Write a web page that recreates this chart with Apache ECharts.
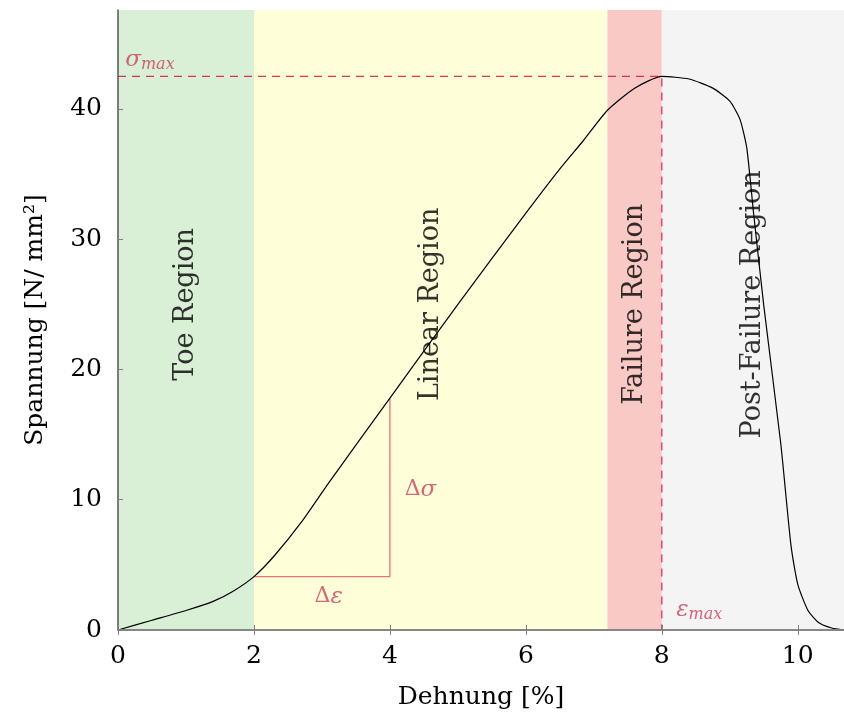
<!DOCTYPE html>
<html>
<head>
<meta charset="utf-8">
<script src="https://cdn.jsdelivr.net/npm/echarts@6/dist/echarts.min.js"></script>
<style>
html,body{margin:0;padding:0;background:#fff;}
#chart{width:844px;height:722px;}
</style>
</head>
<body>
<div id="chart"></div>
<script>
// ---- data ----
const strain = [0, 0.5, 1.0, 1.4, 1.7, 2.0, 2.3, 2.7, 3.1, 4.0, 5.0, 6.0, 6.5, 6.85, 7.2, 7.6, 8.0, 8.4, 8.75, 9.0, 9.15, 9.25, 9.35, 9.5, 9.75, 9.9, 10.0, 10.15, 10.3, 10.5, 10.68];
const stress = [0, 0.75, 1.5, 2.2, 3.0, 4.1, 5.7, 8.3, 11.3, 17.8, 25.0, 32.0, 35.4, 37.6, 39.9, 41.6, 42.5, 42.3, 41.6, 40.6, 39.2, 37.0, 32.0, 24.9, 14.3, 6.5, 3.5, 1.5, 0.6, 0.15, 0];

const regionNames = ['Toe Region', 'Linear Region', 'Failure Region', 'Post-Failure Region'];
const regionStart = [0, 2, 7.2, 8];
const regionEnd = [2, 7.2, 8, 10.68];
const regionLabelY = 25;

const xTicks = [0, 2, 4, 6, 8, 10];
const yTicks = [0, 10, 20, 30, 40];

const sigmaMax = 42.5;
const epsMax = 8;
const triangleX = [2, 4, 4];
const triangleY = [4.1, 4.1, 17.8];

const annotTexts = ['Δσ', 'Δε', 'σmax', 'εmax'];
const annotX = [4.45, 3.1, 0.47, 8.55];
const annotY = [10.7, 2.5, 43.7, 1.5];

// ---- chart ----
const regionColors = ['#d9efd6', '#fefed9', '#f9c9c6', '#f4f4f4'];
const red = '#dc143c';
const font = 'DejaVu Serif';

const chart = echarts.init(document.getElementById('chart'));

const xMin = 0, xMax = 10.68, yMin = 0, yMax = 47.6;

const curve = strain.map((x, i) => [x, stress[i]]);
const tri = triangleX.map((x, i) => [x, triangleY[i]]);

function richLabel(t) {
  if (t === 'σmax') return '{a|σ}{b|max}';
  if (t === 'εmax') return '{a|ε}{b|max}';
  if (t[0] === 'Δ') return '{d|Δ}{a|' + t.slice(1) + '}';
  return '{a|' + t + '}';
}

const annotColor = '#c9405e';

const option = {
  animation: false,
  backgroundColor: '#fff',
  grid: { left: 118, right: 0, top: 10, bottom: 92 },
  xAxis: [{
    type: 'value', min: xMin, max: xMax, interval: 2, z: 10,
    name: 'Dehnung [%]', nameLocation: 'middle', nameGap: 55,
    nameTextStyle: { fontFamily: font, fontSize: 25, color: '#000' },
    axisLine: { show: true, onZero: false, lineStyle: { color: '#808080', width: 1.5 } },
    axisTick: { show: true, inside: true, length: 5, lineStyle: { color: '#808080' } },
    axisLabel: { fontFamily: font, fontSize: 25, color: '#000', margin: 14, showMaxLabel: false,
      formatter: v => xTicks.includes(v) ? String(v) : '' },
    splitLine: { show: false }
  }, {
    type: 'value', min: xMin, max: xMax, interval: 2, position: 'top', z: 10,
    axisLine: { show: true, lineStyle: { color: '#808080', width: 1.5 } },
    axisTick: { show: true, inside: true, length: 5, lineStyle: { color: '#808080' } },
    axisLabel: { show: false },
    splitLine: { show: false }
  }],
  yAxis: [{
    type: 'value', min: yMin, max: yMax, interval: 10, z: 10,
    name: 'Spannung [N/ mm²]', nameLocation: 'middle', nameGap: 70,
    nameTextStyle: { fontFamily: font, fontSize: 25, color: '#000' },
    axisLine: { show: true, onZero: false, lineStyle: { color: '#555', width: 1.5 } },
    axisTick: { show: true, inside: true, length: 5, lineStyle: { color: '#808080' } },
    axisLabel: { fontFamily: font, fontSize: 25, color: '#000', margin: 16, showMaxLabel: false,
      formatter: v => yTicks.includes(v) ? String(v) : '' },
    splitLine: { show: false }
  }],
  series: [
    {
      type: 'line', data: [], silent: true, z: 1,
      markArea: {
        silent: true,
        data: regionNames.map((n, i) => [
          { xAxis: regionStart[i], yAxis: yMin, itemStyle: { color: regionColors[i], opacity: 1 } },
          { xAxis: regionEnd[i], yAxis: yMax }
        ])
      }
    },
    {
      type: 'line', data: tri, symbol: 'none', z: 3,
      lineStyle: { color: red, width: 1.3, opacity: 0.6 }
    },
    {
      type: 'line', data: [[xMin, sigmaMax], [epsMax, sigmaMax], [epsMax, yMin]], symbol: 'none', z: 3,
      lineStyle: { color: red, width: 1.3, type: [8, 6], opacity: 0.85 }
    },
    {
      type: 'line', data: curve, symbol: 'none', smooth: 0.2, z: 4,
      lineStyle: { color: '#000', width: 1.2 }
    },
    {
      type: 'scatter', symbolSize: 0, z: 5, silent: true,
      data: regionNames.map((n, i) => [(regionStart[i] + regionEnd[i]) / 2, regionLabelY, n]),
      label: {
        show: true, position: 'inside', rotate: 90,
        formatter: p => p.data[2],
        fontFamily: font, fontSize: 27, color: '#000'
      }
    },
    {
      type: 'scatter', symbolSize: 0, z: 5, silent: true,
      data: annotTexts.map((t, i) => [annotX[i], annotY[i], t]),
      label: {
        show: true, position: 'inside',
        formatter: p => richLabel(p.data[2]),
        rich: {
          d: { fontFamily: font, fontSize: 22, color: annotColor, verticalAlign: 'top', lineHeight: 24 },
          a: { fontFamily: font, fontSize: 23, fontStyle: 'italic', color: annotColor, verticalAlign: 'top', lineHeight: 24 },
          b: { fontFamily: font, fontSize: 16, fontStyle: 'italic', color: annotColor, verticalAlign: 'bottom', lineHeight: 24, padding: [12, 0, 0, 0] }
        }
      }
    }
  ]
};
chart.setOption(option);
</script>
</body>
</html>
